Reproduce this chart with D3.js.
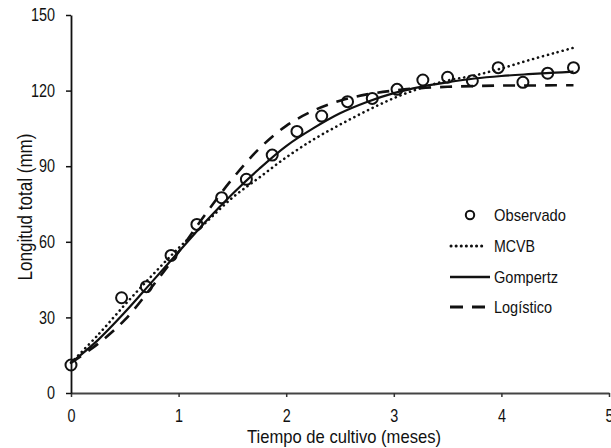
<!DOCTYPE html>
<html>
<head>
<meta charset="utf-8">
<script src="https://cdn.jsdelivr.net/npm/d3@7"></script>
<style>
  body { margin: 0; background: #fff; }
  svg text { font-family: "Liberation Sans Narrow", "Arial Narrow", "Liberation Sans", Arial, sans-serif; fill: #111; }
</style>
</head>
<body>
<svg id="chart" width="611" height="448"></svg>
<script>
// observed lengths (mm) by month
const obsMonths = [0, 0.47, 0.70, 0.93, 1.17, 1.40, 1.63, 1.87, 2.10, 2.33, 2.57, 2.80, 3.03, 3.27, 3.50, 3.73, 3.97, 4.20, 4.43, 4.67];
const obsLength = [11.1, 37.8, 42.2, 54.6, 66.9, 77.5, 84.8, 94.4, 103.8, 109.9, 115.6, 116.9, 120.5, 124.2, 125.3, 123.9, 129.1, 123.3, 126.9, 129.1];

// fitted curves
const fitMonths = [0, 0.25, 0.5, 0.75, 1.0, 1.25, 1.5, 1.75, 2.0, 2.25, 2.5, 2.75, 3.0, 3.25, 3.5, 3.75, 4.0, 4.25, 4.5, 4.67];
const mcvb = [12, 23, 35, 46.5, 57.5, 67.5, 77.5, 85.5, 93.5, 100.5, 106.5, 112, 117, 121, 124, 126, 128.8, 132, 135, 137];
const gompertz = [12, 21, 32, 44, 56, 68, 79, 89, 98, 105, 111, 115.5, 119, 121.5, 123.3, 124.8, 125.8, 126.5, 127.1, 127.5];
const logistico = [12, 19.5, 29, 42, 56, 71, 85, 97, 106, 112, 116, 118.5, 120, 121, 121.5, 121.8, 122, 122, 122.1, 122.1];

const xTicks = [0, 1, 2, 3, 4, 5];
const yTicks = [0, 30, 60, 90, 120, 150];

const svg = d3.select("#chart");

const x = d3.scaleLinear().domain([0, 5]).range([71, 609]);
const y = d3.scaleLinear().domain([0, 150]).range([393, 15]);

// squeeze text to look like a narrow face
function narrow(sel, k) {
  sel.each(function () {
    const len = this.getComputedTextLength();
    d3.select(this).attr("textLength", len * k).attr("lengthAdjust", "spacingAndGlyphs");
  });
}

// axes
const xAxis = svg.append("g")
  .attr("transform", "translate(0," + y(0) + ")")
  .attr("font-family", null)
  .call(d3.axisBottom(x).tickValues(xTicks).tickSize(4).tickSizeOuter(0).tickFormat(d3.format("d")));
xAxis.select(".domain").attr("stroke", "#444").attr("stroke-width", 2.2);
xAxis.selectAll(".tick line").attr("stroke", "#333").attr("stroke-width", 1.5);
xAxis.selectAll(".tick text").attr("font-size", 18).attr("y", 29).attr("dy", 0);

const yAxis = svg.append("g")
  .attr("transform", "translate(" + x(0) + ",0)")
  .attr("font-family", null)
  .call(d3.axisLeft(y).tickValues(yTicks).tickSize(5).tickSizeOuter(0));
yAxis.select(".domain").attr("stroke", "#111").attr("stroke-width", 1.8);
yAxis.selectAll(".tick line").attr("stroke", "#111").attr("stroke-width", 1.5);
yAxis.selectAll(".tick text").attr("font-size", 18).attr("x", -16);

svg.selectAll(".tick text").call(narrow, 0.8);

// axis titles
svg.append("text")
  .attr("x", 344).attr("y", 443)
  .attr("text-anchor", "middle")
  .attr("font-size", 19)
  .attr("textLength", 194)
  .attr("lengthAdjust", "spacingAndGlyphs")
  .text("Tiempo de cultivo (meses)");

svg.append("text")
  .attr("transform", "translate(32,207) rotate(-90)")
  .attr("text-anchor", "middle")
  .attr("font-size", 20)
  .attr("textLength", 147)
  .attr("lengthAdjust", "spacingAndGlyphs")
  .text("Longitud total (mm)");

// fitted lines
const line = d3.line()
  .x(d => x(d[0]))
  .y(d => y(d[1]))
  .curve(d3.curveCatmullRom);

const series = [
  { name: "MCVB", values: mcvb, dash: "0.1,5", width: 2.6, cap: "round", legendW: 41 },
  { name: "Gompertz", values: gompertz, dash: null, width: 2.2, cap: "butt", legendW: 64 },
  { name: "Logístico", values: logistico, dash: "12,9", width: 2.6, cap: "butt", legendW: 58 }
];

series.forEach(s => {
  svg.append("path")
    .attr("d", line(fitMonths.map((m, i) => [m, s.values[i]])))
    .attr("fill", "none")
    .attr("stroke", "#111")
    .attr("stroke-width", s.width)
    .attr("stroke-linecap", s.cap)
    .attr("stroke-dasharray", s.dash);
});

// observed points
svg.append("g")
  .selectAll("circle")
  .data(obsMonths.map((m, i) => [m, obsLength[i]]))
  .enter()
  .append("circle")
  .attr("cx", d => x(d[0]))
  .attr("cy", d => y(d[1]))
  .attr("r", 5.5)
  .attr("fill", "none")
  .attr("stroke", "#111")
  .attr("stroke-width", 2);

// legend
const legend = svg.append("g");
const rowY = [215, 246, 277, 307];

legend.append("circle")
  .attr("cx", 470).attr("cy", rowY[0])
  .attr("r", 4.2)
  .attr("fill", "none")
  .attr("stroke", "#111")
  .attr("stroke-width", 2);

series.forEach((s, i) => {
  legend.append("line")
    .attr("x1", s.name === "MCVB" ? 451 : 450)
    .attr("x2", s.name === "Gompertz" ? 490 : 486)
    .attr("y1", rowY[i + 1]).attr("y2", rowY[i + 1])
    .attr("stroke", "#111")
    .attr("stroke-width", s.width + 0.4)
    .attr("stroke-linecap", s.cap)
    .attr("stroke-dasharray", s.dash === "12,9" ? "13,9" : s.dash);
});

const labels = [{ name: "Observado", legendW: 72 }].concat(series);
legend.selectAll("text.lab")
  .data(labels)
  .enter()
  .append("text")
  .attr("class", "lab")
  .attr("x", 494)
  .attr("y", (d, i) => rowY[i])
  .attr("dy", "0.36em")
  .attr("font-size", 17)
  .attr("textLength", d => d.legendW)
  .attr("lengthAdjust", "spacingAndGlyphs")
  .text(d => d.name);
</script>
</body>
</html>
